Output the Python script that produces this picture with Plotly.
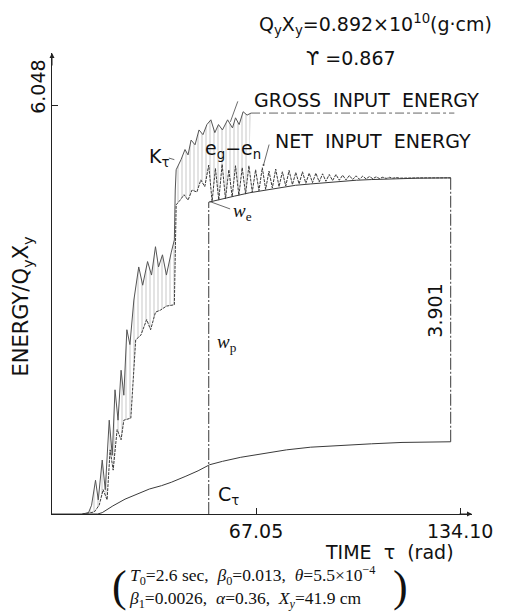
import plotly.graph_objects as go

# ---------------- data ----------------
tau_gross = [10, 12.0, 13.0, 14.3, 15.2, 16.5, 17.5, 18.8, 19.8, 20.7, 21.7, 22.7, 23.6, 24.6, 25.6,
             26.9, 28.5, 29.8, 31.4, 32.7, 34.0, 35.0, 36.3, 37.6, 39.2, 40.2, 40.5, 40.8, 42.4,
             43.7, 44.7, 45.7, 47.0, 48.3, 49.6, 50.9, 52.2, 53.5, 54.7, 56.0, 57.7, 59.3, 60.3,
             61.5, 62.8, 64.1, 65.4]
e_gross = [0, 0.02, 0.13, 0.50, 0.21, 0.80, 0.36, 1.39, 0.87, 1.84, 1.39, 2.13, 1.76, 2.73, 2.51,
           3.17, 3.66, 3.39, 3.74, 3.54, 3.96, 3.66, 3.84, 3.54, 3.88, 4.06, 4.80, 5.10, 5.25,
           5.40, 5.32, 5.54, 5.47, 5.69, 5.62, 5.77, 5.84, 5.65, 5.77, 5.69, 5.84, 5.72, 5.87,
           5.77, 5.96, 5.91, 5.94]

tau_gross_flat = [65.4, 132.2]
e_gross_flat = [5.94, 5.94]

tau_net = [10, 13.9, 15.5, 16.8, 18.1, 19.1, 20.1, 21.4, 22.7, 23.6, 25.9, 26.6, 27.5, 29.2, 31.1,
           32.4, 34.0, 35.6, 37.6, 40.2, 40.5, 40.8, 42.1, 43.4, 44.7, 46.0, 47.6, 48.9, 50.2,
           51.5, 52.6, 53.7, 54.8, 55.9, 57.0, 58.1, 59.2, 60.3, 61.4, 62.5, 63.6, 64.7, 65.8,
           66.9, 68.0, 69.1, 70.2, 71.3, 72.4, 73.5, 74.6, 75.7, 76.8, 77.9, 79.0, 80.1, 81.2,
           82.3, 83.4, 84.5, 85.6, 86.7, 87.8, 88.9, 90.0, 91.1, 92.2, 93.3, 94.4, 95.5, 96.6,
           97.7, 98.8, 99.9, 101.0, 102.1, 103.2, 104.3, 105.4, 106.5, 107.6, 108.7, 109.8,
           110.9, 112.0, 113.1, 114.2, 116, 118, 121, 124, 127, 131]
e_net = [0, 0.03, 0.13, 0.36, 0.21, 0.95, 0.65, 1.25, 1.10, 1.39, 1.42, 1.99, 2.58, 2.65, 2.88,
         2.73, 2.99, 3.02, 3.08, 3.10, 3.91, 4.58, 4.65, 4.73, 4.65, 4.80, 4.77, 4.95, 4.85,
         5.17, 4.63, 5.12, 4.65, 5.18, 4.67, 5.10, 4.70, 5.16, 4.72, 5.13, 4.74, 5.16, 4.77,
         5.10, 4.79, 5.13, 4.81, 5.08, 4.83, 5.11, 4.85, 5.07, 4.86, 5.09, 4.88, 5.06, 4.89,
         5.07, 4.90, 5.05, 4.91, 5.05, 4.92, 5.04, 4.93, 5.03, 4.94, 5.03, 4.945, 5.02, 4.95,
         5.015, 4.955, 5.01, 4.96, 5.005, 4.965, 5.0, 4.968, 4.995, 4.97, 4.99, 4.972,
         4.988, 4.975, 4.985, 4.976, 4.982, 4.978, 4.98, 4.979, 4.98, 4.98]

tau_we = [51.5, 55, 60, 65, 70, 75, 80, 85, 90, 95, 100, 105, 110, 115, 120, 131]
e_we = [4.62, 4.66, 4.71, 4.76, 4.80, 4.84, 4.87, 4.89, 4.91, 4.93, 4.945, 4.955, 4.965, 4.97, 4.975, 4.98]

tau_c = [0, 15, 16.5, 20, 24, 28.5, 32, 36, 39.2, 44, 48, 51.8, 56, 62, 70, 77, 85, 95, 105, 115, 125, 131]
e_c = [0, 0, 0.02, 0.12, 0.22, 0.31, 0.37, 0.42, 0.47, 0.56, 0.64, 0.73, 0.78, 0.84, 0.90, 0.95,
       0.99, 1.02, 1.04, 1.06, 1.07, 1.07]

tau_wp = 51.5          # time of the w_p marker line
tau_dim = 131.0        # time of the 3.901 dimension line
x_ticks = [67.05, 134.10]
x_ticktext = ["67.05", "134.10"]
y_tick = 6.048
y_ticktext = "6.048"
dim_label = "3.901"

# ---------------- figure ----------------
LINE = "#3a3a3a"
fig = go.Figure()

# hatched region between gross and net (rising part)
n_cut = sum(1 for t in tau_net if t <= tau_gross[-1])
fig.add_trace(go.Scatter(x=tau_net[:n_cut], y=e_net[:n_cut], mode="lines",
                         line=dict(width=0, color="rgba(0,0,0,0)"), hoverinfo="skip",
                         showlegend=False))
fig.add_trace(go.Scatter(x=tau_gross, y=e_gross, mode="lines",
                         line=dict(width=1, color="#555555"),
                         fill="tonexty", fillcolor="rgba(0,0,0,0)",
                         fillpattern=dict(shape="|", fgcolor="#808080", bgcolor="rgba(0,0,0,0)",
                                          size=4, solidity=0.22),
                         showlegend=False))
fig.add_trace(go.Scatter(x=tau_gross_flat, y=e_gross_flat, mode="lines",
                         line=dict(width=1, color="#666666", dash="dashdot"), showlegend=False))
fig.add_trace(go.Scatter(x=tau_net, y=e_net, mode="lines",
                         line=dict(width=1, color=LINE, dash="3px,1px"), showlegend=False))
fig.add_trace(go.Scatter(x=tau_we, y=e_we, mode="lines",
                         line=dict(width=1, color=LINE), showlegend=False))
fig.add_trace(go.Scatter(x=tau_c, y=e_c, mode="lines",
                         line=dict(width=1, color=LINE), showlegend=False))

# w_p line: from the axis up to w_e envelope
fig.add_trace(go.Scatter(x=[tau_wp, tau_wp], y=[0, e_we[0]], mode="lines",
                         line=dict(width=1, color=LINE, dash="12px,2px,2px,2px"), showlegend=False))
# dimension line 3.901
fig.add_trace(go.Scatter(x=[tau_dim, tau_dim], y=[e_c[-1], e_net[-1]], mode="lines",
                         line=dict(width=1, color=LINE, dash="12px,2px,2px,2px"), showlegend=False))

FONT = "DejaVu Sans"
ann = []
def txt(x, y, s, size=19, xanchor="center", yanchor="middle", angle=0, xref="x", yref="y",
        family=FONT, align="center", xshift=0, yshift=0):
    ann.append(dict(x=x, y=y, xref=xref, yref=yref, text=s, showarrow=False, xanchor=xanchor,
                    yanchor=yanchor, textangle=angle, align=align, xshift=xshift, yshift=yshift,
                    font=dict(family=family, size=size, color="#111")))

def leader(x, y, ax, ay, head=0):
    ann.append(dict(x=x, y=y, xref="x", yref="y", text="", showarrow=True, ax=ax, ay=ay,
                    arrowhead=head, arrowsize=0.6, arrowwidth=0.8, arrowcolor="#444",
                    standoff=0))

# header texts (paper coordinates)
txt(1.052, 1.061, "Q<sub>y</sub>X<sub>y</sub>=0.892×10<sup>10</sup>(g·cm)", size=19,
    xanchor="right", xref="paper", yref="paper")
txt(0.711, 0.99, "ϒ =0.867", size=19, xref="paper", yref="paper")

txt(65.8, 6.14, "GROSS  INPUT  ENERGY", xanchor="left")
txt(72.5, 5.53, "NET  INPUT  ENERGY", xanchor="left")
txt(35.0, 5.28, "K<sub>τ</sub>")
txt(59.6, 5.40, "e<sub>g</sub>−e<sub>n</sub>")
txt(62.5, 4.48, "<i>w</i><sub>e</sub>", family="Liberation Serif")
txt(53.5, 2.53, "<i>w</i><sub>p</sub>", xanchor="left", family="Liberation Serif")
txt(54.0, 0.28, "C<sub>τ</sub>", xanchor="left")
txt(126.0, 3.02, dim_label, angle=-90)

# y tick label
txt(0, y_tick, y_ticktext, angle=-90, xref="paper", xshift=-14, yshift=19)

leader(58.6, 5.81, 8, -22)
leader(69.5, 5.17, 6, -22, head=6)
leader(51.8, 4.63, 22, 8)
leader(40.2, 5.25, -7, -2)

# axis arrows
ann.append(dict(x=0, y=1, xref="x", yref="paper", text="", showarrow=True, ax=0, ay=14,
                arrowhead=2, arrowsize=1, arrowwidth=1, arrowcolor="#222"))
ann.append(dict(x=1, y=0, xref="paper", yref="y", text="", showarrow=True, ax=-14, ay=0,
                arrowhead=2, arrowsize=1, arrowwidth=1, arrowcolor="#222"))

# axis titles
txt(0, 0.45, "ENERGY/Q<sub>y</sub>X<sub>y</sub>", size=21, angle=-90, xref="paper", yref="paper",
    xshift=-30)
txt(1, -0.083, "TIME  τ  (rad)", xanchor="right", xref="paper", yref="paper", xshift=-16)

# parameter block
params = ("<i>T</i><sub>0</sub>=2.6 sec,  <i>β</i><sub>0</sub>=0.013,  <i>θ</i>=5.5×10<sup>−4</sup><br>"
          "<i>β</i><sub>1</sub>=0.0026,  <i>α</i>=0.36,  <i>X<sub>y</sub></i>=41.9 cm")
txt(0.178, -0.158, params, size=17.5, xanchor="left", xref="paper", yref="paper",
    family="Liberation Serif", align="left")
txt(0.16, -0.158, "(", size=44, xref="paper", yref="paper", family="Liberation Serif")
txt(0.83, -0.158, ")", size=44, xref="paper", yref="paper", family="Liberation Serif")

fig.update_layout(
    width=505, height=616,
    margin=dict(l=52, r=27, t=53, b=102),
    paper_bgcolor="white", plot_bgcolor="white",
    showlegend=False,
    annotations=ann,
    xaxis=dict(range=[0, 138.0], showline=True, linecolor="#222", linewidth=1.2,
               ticks="inside", ticklen=6, tickcolor="#222", tickvals=x_ticks, ticktext=x_ticktext,
               showgrid=False, zeroline=False, tickfont=dict(family=FONT, size=19, color="#111")),
    yaxis=dict(range=[0, 6.83], showline=True, linecolor="#222", linewidth=1.2,
               ticks="inside", ticklen=6, tickcolor="#222", tickvals=[y_tick],
               showticklabels=False, showgrid=False, zeroline=False),
)

fig.write_html("out.html")
